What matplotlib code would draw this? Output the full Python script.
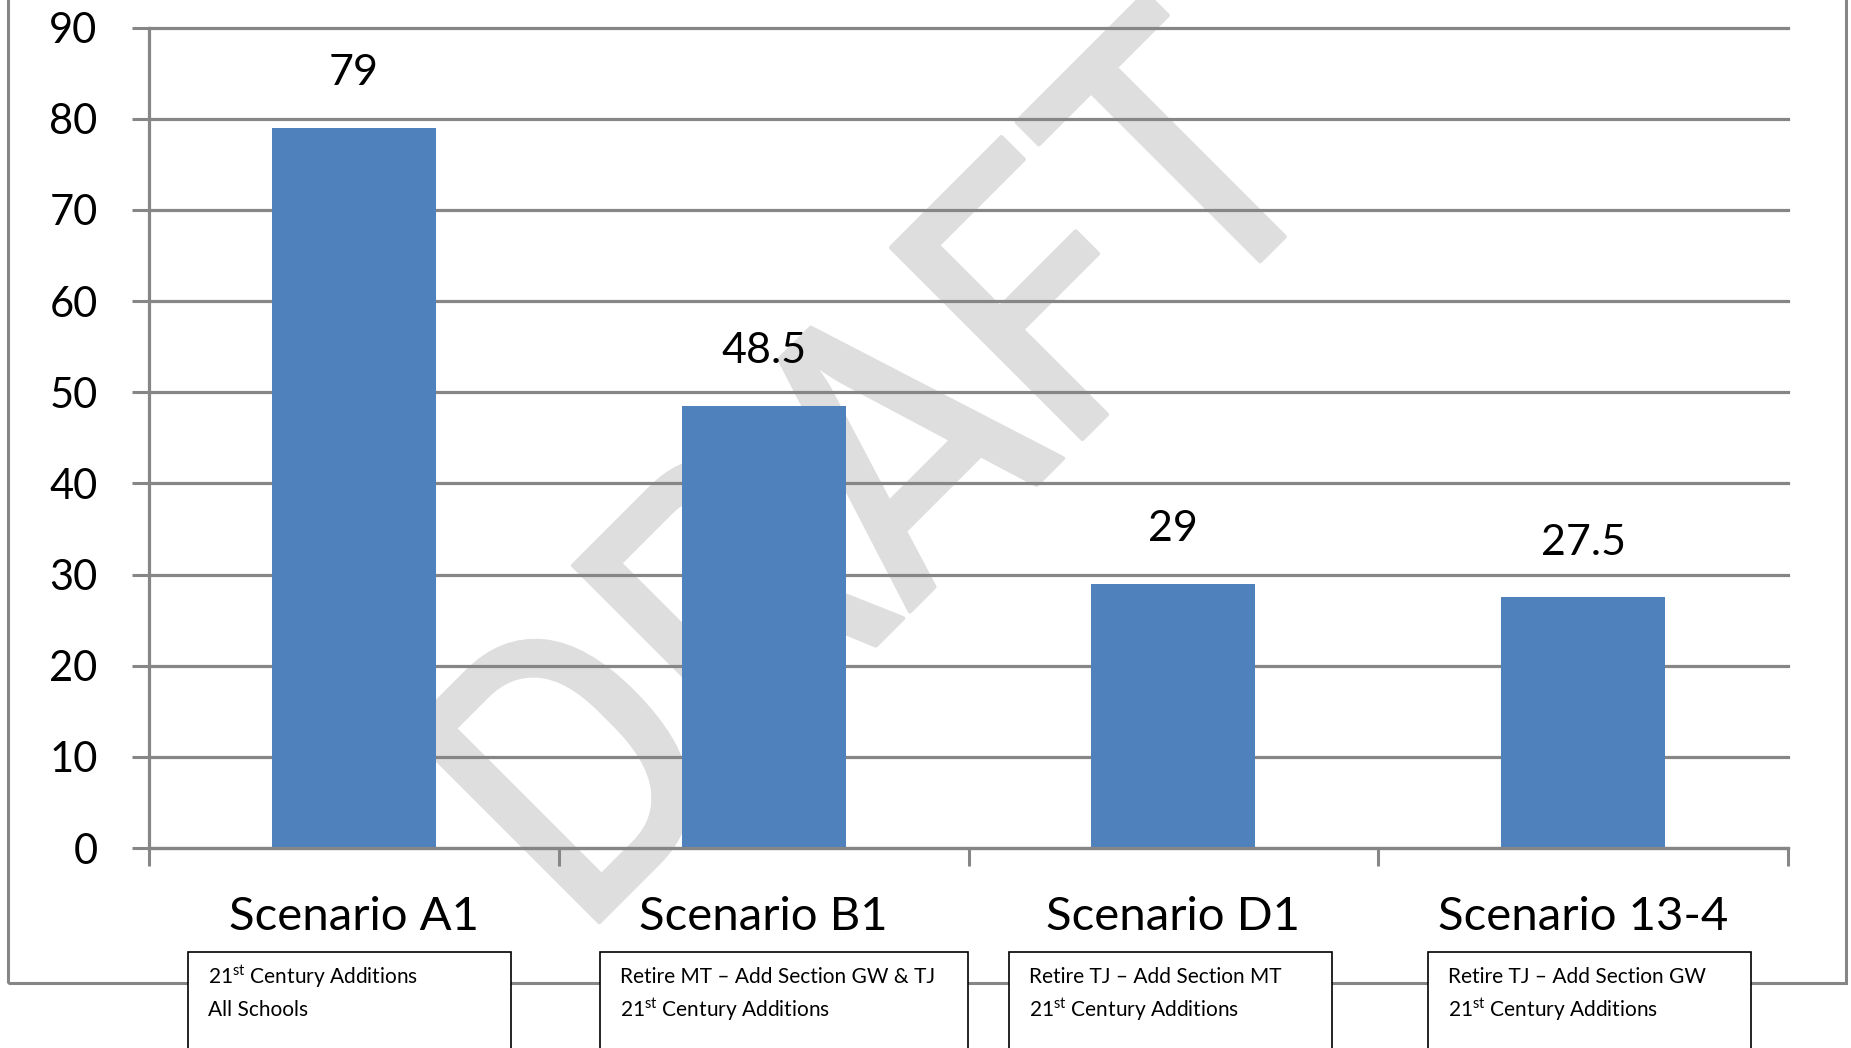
import matplotlib
matplotlib.use("Agg")
import matplotlib.pyplot as plt
import matplotlib.patheffects as pe
from matplotlib import font_manager as fm
from matplotlib.font_manager import FontProperties
from matplotlib.textpath import TextToPath
from matplotlib.patches import Rectangle
from matplotlib.transforms import blended_transform_factory

plt.rcParams['font.family'] = ['Lato', 'DejaVu Sans']
plt.rcParams['mathtext.fontset'] = 'custom'
plt.rcParams['mathtext.rm'] = 'Lato'

# data
scenarios = ["Scenario A1", "Scenario B1", "Scenario D1", "Scenario 13-4"]
values = [79, 48.5, 29, 27.5]
value_labels = ["79", "48.5", "29", "27.5"]
notes = [
    ["21$^{\\rm st}$ Century Additions", "All Schools"],
    ["Retire MT \u2013 Add Section GW & TJ", "21$^{\\rm st}$ Century Additions"],
    ["Retire TJ \u2013 Add Section MT", "21$^{\\rm st}$ Century Additions"],
    ["Retire TJ \u2013 Add Section GW", "21$^{\\rm st}$ Century Additions"],
]
yticks = [0, 10, 20, 30, 40, 50, 60, 70, 80, 90]
watermark = "DRAFT"

W, H = 1851, 1048
gray = "#868686"
bar_col = "#4F81BD"
wm_col = "#dedede"

fig = plt.figure(figsize=(W / 100, H / 100), dpi=100)
ax = fig.add_axes([149 / W, 200 / H, (1788 - 149) / W, 820.3 / H])

x = list(range(len(scenarios)))
ax.bar(x, values, width=0.4, color=bar_col, zorder=2)
ax.set_xlim(-0.5, len(scenarios) - 0.5)
ax.set_ylim(0, 90)

ax.set_axisbelow(True)
ax.set_yticks(yticks)
ax.set_yticklabels([str(t) for t in yticks], fontsize=30)
ax.yaxis.grid(True, color=gray, linewidth=2.3)
for gl in ax.get_ygridlines():
    gl.set_clip_on(False)
ax.tick_params(axis='y', direction='out', length=12, width=2.2, color=gray, pad=25)

# category separators on x axis
ax.set_xticks([i - 0.5 for i in range(len(scenarios) + 1)])
ax.set_xticklabels([])
ax.tick_params(axis='x', direction='out', length=13, width=2.2, color=gray)

for s in ["top", "right"]:
    ax.spines[s].set_visible(False)
for s in ["left", "bottom"]:
    ax.spines[s].set_color(gray)
    ax.spines[s].set_linewidth(2.3)

# value labels
for i, v in enumerate(values):
    ax.text(i, v + 6, value_labels[i], ha='center', va='center', fontsize=31, zorder=3)

# category labels
tr = blended_transform_factory(ax.transData, ax.transAxes)
for i, s in enumerate(scenarios):
    ax.text(i, -0.084, s, transform=tr, ha='center', va='center', fontsize=34)

# watermark: prefer a condensed face, size it so the letters span the same
# diagonal as in the original
cands = []
for f in fm.fontManager.ttflist:
    if f.style != 'normal' or f.weight not in (400, 'normal', 'regular'):
        continue
    nm = f.name
    cond = str(f.stretch) == 'condensed' or ('Condensed' in nm and 'Semi' not in nm and 'Extra' not in nm)
    if cond or 'Narrow' in nm:
        cands.append(f)
if cands:
    cands.sort(key=lambda f: (0 if str(f.stretch) == 'condensed' else 1, f.name))
    wm_prop = FontProperties(fname=cands[0].fname)
else:
    wm_prop = FontProperties(family='Liberation Sans')

ttp = TextToPath()
wm_prop.set_size(100)
w_all = ttp.get_text_width_height_descent(watermark, wm_prop, ismath=False)[0]
w_first = ttp.get_text_width_height_descent(watermark[0], wm_prop, ismath=False)[0]
w_last = ttp.get_text_width_height_descent(watermark[-1], wm_prop, ismath=False)[0]
cap = ttp.get_text_width_height_descent("T", wm_prop, ismath=False)[1]
span = w_all - (w_first + w_last) / 2
fs = 100 * (863 * 0.72) / span
k = fs / 100 / 0.72                      # points at size 100 -> pixels
off = (w_first - w_last) / 4 * k          # centre shift along the baseline
along = 413.5 / 2 ** 0.5 - off            # text centre, along the diagonal
cap_px = cap * k
s_base = 1330 + cap_px / 2 * 2 ** 0.5     # x + y of baseline
d_base = along * 2 ** 0.5                 # x - y of centre
px, py = (s_base + d_base) / 2, (s_base - d_base) / 2
wm_prop.set_size(fs)
ax.text((px - 149) / 1639, (848 - py) / 820.3, watermark, transform=ax.transAxes,
        rotation=45, ha='center', va='baseline', fontproperties=wm_prop,
        color=wm_col, zorder=0.1, clip_on=False, rotation_mode='anchor',
        path_effects=[pe.withStroke(linewidth=3, foreground=wm_col)])

# outer frame
fig.patches.append(Rectangle((8 / W, 65 / H), (1846 - 8) / W, 1.1, transform=fig.transFigure,
                             fill=False, edgecolor=gray, linewidth=2.2, zorder=5))

# note boxes
box_x = [(188, 511), (600, 968), (1009, 1332), (1428, 1751)]
for (x0, x1), lines in zip(box_x, notes):
    fig.patches.append(Rectangle((x0 / W, -0.05), (x1 - x0) / W, (1098 - 950) / H,
                                 transform=fig.transFigure, facecolor='white',
                                 edgecolor='black', linewidth=1.2, zorder=6))
    fig.text((x0 + 20) / W, (H - 977) / H, lines[0], ha='left', va='center', fontsize=15, zorder=7)
    fig.text((x0 + 20) / W, (H - 1010) / H, lines[1], ha='left', va='center', fontsize=15, zorder=7)

fig.savefig("out.png", dpi=100, facecolor='white')
